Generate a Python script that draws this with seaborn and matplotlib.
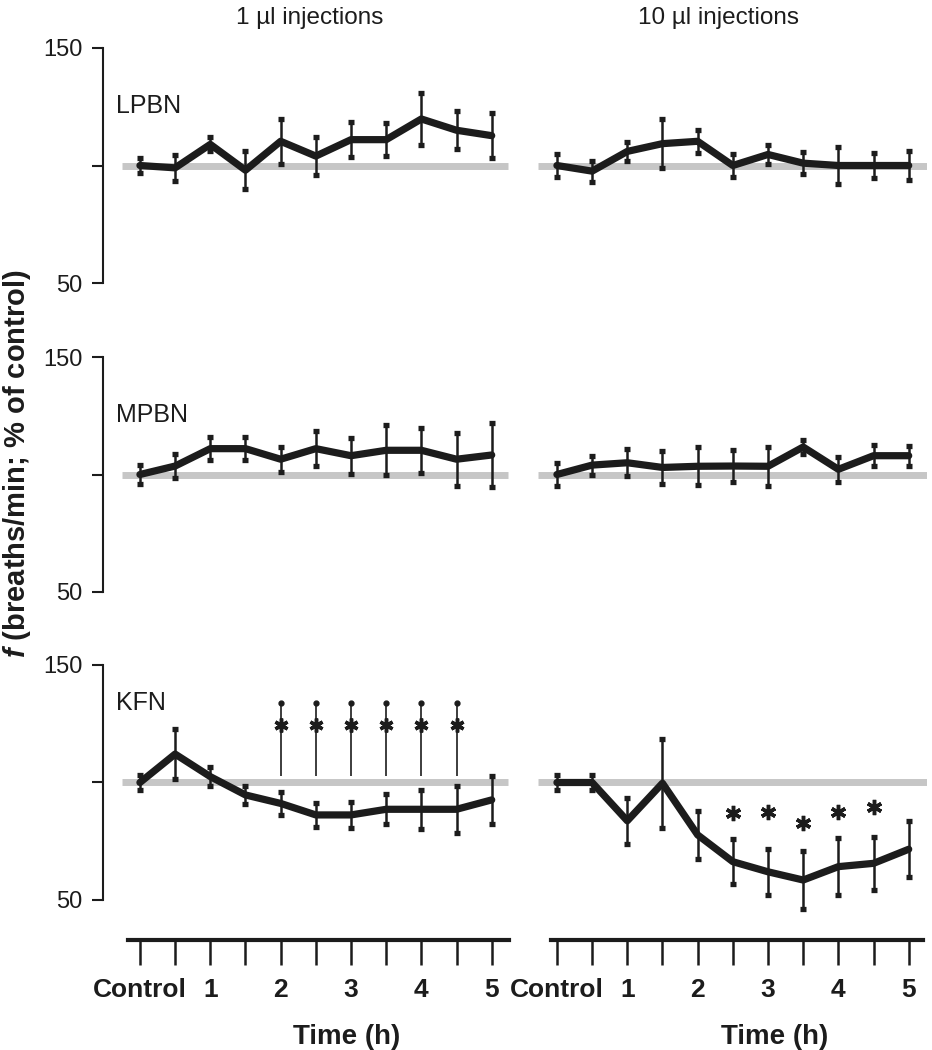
import matplotlib
matplotlib.use("Agg")
import matplotlib.pyplot as plt
import pandas as pd
import seaborn as sns

# time points (h) and bottom tick labels
time_h = [0, 0.5, 1.0, 1.5, 2.0, 2.5, 3.0, 3.5, 4.0, 4.5, 5.0]
tick_labels = ["Control", "", "1", "", "2", "", "3", "", "4", "", "5"]

col_titles = ["1 µl injections", "10 µl injections"]
row_names = ["LPBN", "MPBN", "KFN"]

# values (% of control) and error bars
lpbn_1 = [100, 99, 109, 98, 110.3, 104, 111, 111, 119.8, 115, 112.7]
lpbn_1_err = [3, 5.5, 3, 8, 9.7, 8, 7.5, 7, 11, 8, 9.5]
lpbn_10 = [100, 97.6, 106, 109.3, 110.3, 100, 104.7, 101, 100, 100, 100]
lpbn_10_err = [5, 4.5, 4, 10.3, 5, 5, 4, 4.6, 8, 5.5, 6]

mpbn_1 = [100, 103.6, 111, 111, 106.5, 111, 108, 110.3, 110.3, 106.5, 108.3]
mpbn_1_err = [4, 5, 5, 5, 5.4, 7.3, 7.7, 10.6, 9.7, 11.3, 13.5]
mpbn_10 = [100, 104, 105, 103, 103.5, 103.6, 103.5, 111.7, 102.2, 108, 108]
mpbn_10_err = [5, 4, 5.7, 7, 8, 6.8, 8.4, 3, 5.3, 4.4, 4.3]

kfn_1 = [100, 112.1, 102.5, 94.7, 91.1, 86.2, 86.2, 88.6, 88.6, 88.6, 92.6]
kfn_1_err = [3, 10.6, 4, 4, 5, 5, 5.7, 6.4, 8.2, 10, 10.3]
kfn_10 = [100, 100, 83.7, 99.7, 77.7, 66.3, 62.0, 58.5, 64.2, 65.6, 71.6]
kfn_10_err = [3, 3, 9.7, 19, 10.2, 9.7, 9.8, 12.5, 12, 11.3, 12]

# significance marks
kfn_1_sig_t = [2.0, 2.5, 3.0, 3.5, 4.0, 4.5]
kfn_1_sig_y = [124.5, 124.5, 124.5, 124.5, 124.5, 124.5]
kfn_1_sig_top = 133.8
kfn_10_sig_t = [2.5, 3.0, 3.5, 4.0, 4.5]
kfn_10_sig_y = [87.0, 87.6, 82.6, 87.6, 89.7]

sns.set_theme(style="white")
plt.rcParams["font.family"] = ["Liberation Sans", "DejaVu Sans"]
plt.rcParams["mathtext.fontset"] = "custom"
plt.rcParams["mathtext.it"] = "Liberation Sans:italic:bold"
plt.rcParams["mathtext.rm"] = "Liberation Sans:bold"

W, H = 932, 1050
fig = plt.figure(figsize=(W / 100, H / 100), dpi=100)

ink = "#1c1c1c"
grey = "#c6c6c6"
row_tops = [43.3, 352.3, 660.3]
col_lefts = [103, 520]
ax_w, ax_h = 407, 258.5
grey_span = [(-0.26, 5.23), (-0.27, 5.27)]
spine_span = [(-0.17, 5.24), (-0.09, 5.2)]

data = [
    [(lpbn_1, lpbn_1_err), (lpbn_10, lpbn_10_err)],
    [(mpbn_1, mpbn_1_err), (mpbn_10, mpbn_10_err)],
    [(kfn_1, kfn_1_err), (kfn_10, kfn_10_err)],
]
label_y = [122.5, 122.3, 131]

for r in range(3):
    for c in range(2):
        ax = fig.add_axes([col_lefts[c] / W, 1 - (row_tops[r] + ax_h) / H, ax_w / W, ax_h / H])
        ax.set_facecolor("none")
        y, err = data[r][c]
        ax.hlines(100, *grey_span[c], color=grey, lw=5, zorder=1)
        df = pd.DataFrame({"t": time_h, "v": y})
        sns.lineplot(data=df, x="t", y="v", ax=ax, color=ink, lw=5.2, zorder=3)
        ax.errorbar(time_h, y, yerr=err, fmt="none", ecolor=ink, elinewidth=1.8,
                    capsize=2.2, capthick=3.8, zorder=4)
        ax.set_xlim(-0.525, 5.26)
        ax.set_ylim(42, 152)
        ax.set_xlabel("")
        ax.set_ylabel("")
        for s in ["top", "right"]:
            ax.spines[s].set_visible(False)

        if c == 0:
            ax.spines["left"].set_bounds(50, 150)
            ax.spines["left"].set_linewidth(1.5)
            ax.spines["left"].set_color(ink)
            ax.set_yticks([50, 100, 150])
            ax.set_yticklabels(["50", "", "150"], fontsize=17)
            ax.tick_params(axis="y", direction="out", length=8, width=1.5, pad=7,
                           left=True, colors=ink)
            ax.text(-0.34, label_y[r], row_names[r], fontsize=18, ha="left",
                    va="baseline", color=ink)
        else:
            ax.spines["left"].set_visible(False)
            ax.set_yticks([])

        if r == 2:
            sp = ax.spines["bottom"]
            sp.set_position(("outward", 15.3))
            sp.set_bounds(*spine_span[c])
            sp.set_linewidth(3)
            sp.set_color(ink)
            ax.set_xticks(time_h)
            ax.set_xticklabels(tick_labels, fontsize=19, fontweight="bold")
            ax.tick_params(axis="x", direction="out", length=18, width=1.8, pad=9,
                           bottom=True, colors=ink)
        else:
            ax.spines["bottom"].set_visible(False)
            ax.set_xticks([])

        if r == 2 and c == 0:
            ax.vlines(kfn_1_sig_t, 102.8, kfn_1_sig_top, color=ink, lw=1.2, zorder=4)
            ax.plot(kfn_1_sig_t, [kfn_1_sig_top] * len(kfn_1_sig_t), "o", color=ink,
                    ms=3.5, zorder=5)
            ax.plot(kfn_1_sig_t, kfn_1_sig_y, marker=(6, 2, 0), ls="none", color=ink,
                    ms=10, mew=2.5, zorder=5)
        if r == 2 and c == 1:
            ax.plot(kfn_10_sig_t, kfn_10_sig_y, marker=(6, 2, 0), ls="none", color=ink,
                    ms=11, mew=2.5, zorder=5)

fig.text(310 / W, 1 - 18 / H, col_titles[0], fontsize=17.5, ha="center", va="center", color=ink)
fig.text(718 / W, 1 - 18 / H, col_titles[1], fontsize=17.5, ha="center", va="center", color=ink)
fig.text(347 / W, 1 - 1037 / H, "Time (h)", fontsize=20, fontweight="bold", ha="center",
         va="center", color=ink)
fig.text(775 / W, 1 - 1037 / H, "Time (h)", fontsize=20, fontweight="bold", ha="center",
         va="center", color=ink)
fig.text(17 / W, 1 - 464 / H, "$f$ (breaths/min; % of control)", fontsize=21,
         fontweight="bold", rotation=90, ha="center", va="center", color=ink)

fig.savefig("out.png", dpi=100)
